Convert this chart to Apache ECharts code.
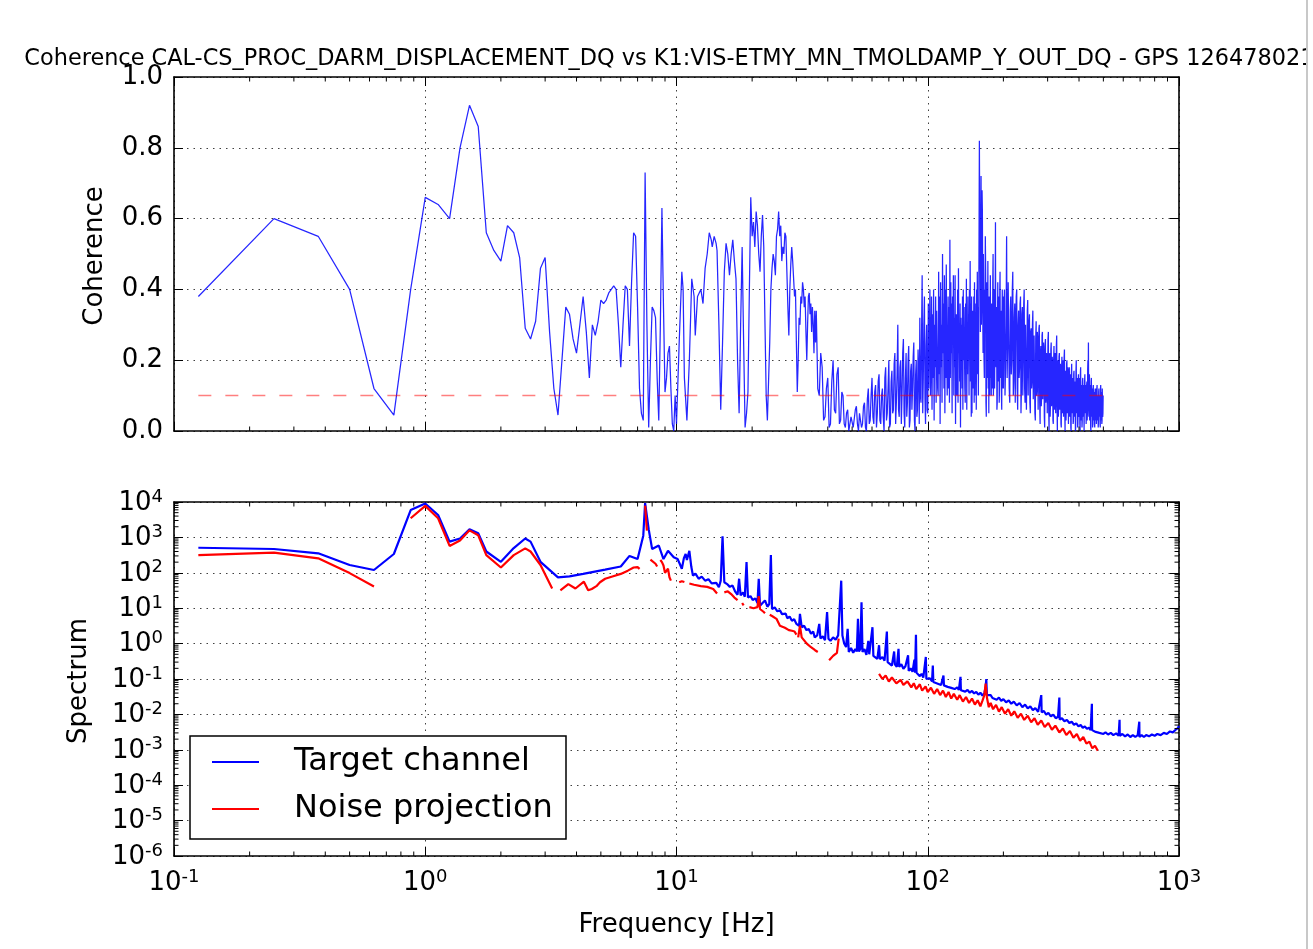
<!DOCTYPE html>
<html>
<head>
<meta charset="utf-8">
<script src="https://cdn.jsdelivr.net/npm/echarts@6/dist/echarts.min.js"></script>
<style>
  html, body { margin: 0; padding: 0; background: #fff; }
  #chart { width: 1313px; height: 949px; }
</style>
</head>
<body>
<div id="chart"></div>
<script>
// ---------- data ----------
const titleText = 'Coherence CAL-CS_PROC_DARM_DISPLACEMENT_DQ vs K1:VIS-ETMY_MN_TMOLDAMP_Y_OUT_DQ - GPS 1264780218';
const seriesNames = ['Target channel', 'Noise projection'];
const coherenceTickLabels = ['0.0', '0.2', '0.4', '0.6', '0.8', '1.0'];
const cohThreshold = 0.1;
const thresholdSpan = [0.125, 500];

// coherence on the 0.125 Hz bin grid, 0.125 ... 9.875 Hz
const binStep = 0.125;
const cohLow = [
  0.38, 0.60, 0.55, 0.40, 0.12, 0.045, 0.40, 0.66, 0.64, 0.60,
  0.80, 0.92, 0.86, 0.56, 0.51, 0.48, 0.58, 0.56, 0.49, 0.29,
  0.26, 0.31, 0.46, 0.49, 0.28, 0.12, 0.045,
  0.20, 0.35, 0.33, 0.26, 0.22, 0.30, 0.38, 0.28,
  0.15, 0.30, 0.27, 0.31, 0.37, 0.36, 0.37, 0.39,
  0.40, 0.41, 0.40, 0.30, 0.18, 0.30, 0.41, 0.40,
  0.24, 0.42, 0.56, 0.55, 0.35, 0.12, 0.05, 0.03,
  0.73, 0.30, 0.01, 0.20, 0.35, 0.34, 0.32, 0.15,
  0.03, 0.30, 0.63, 0.35, 0.11, 0.15, 0.22, 0.24,
  0.12, 0.02, 0.0, 0.10
];
// coherence 10 - 36 Hz, [frequency, coherence]
const cohMid = [
  [10.0,0.02],[10.25,0.25],[10.5,0.45],[10.625,0.40],[10.75,0.15],[11.0,0.03],[11.25,0.20],[11.5,0.43],[11.75,0.38],[11.875,0.27],
  [12.125,0.38],[12.5,0.40],[12.75,0.36],[13.0,0.46],[13.25,0.50],[13.5,0.56],[13.75,0.54],[13.875,0.52],[14.125,0.55],[14.375,0.53],
  [14.5,0.51],[14.75,0.30],[15.0,0.06],[15.25,0.25],[15.5,0.45],[15.75,0.53],[16.0,0.50],[16.25,0.44],[16.5,0.50],[16.75,0.54],
  [17.0,0.48],[17.25,0.43],[17.5,0.20],[17.75,0.05],[18.0,0.30],[18.25,0.52],[18.5,0.25],[18.75,0.01],[19.0,0.05],[19.25,0.11],
  [19.5,0.40],[19.75,0.66],[20.0,0.55],[20.25,0.59],[20.5,0.52],[20.75,0.62],[21.0,0.58],[21.25,0.50],[21.5,0.45],[21.75,0.55],
  [22.0,0.61],[22.25,0.52],[22.5,0.30],[22.75,0.10],[23.0,0.03],[23.25,0.03],[23.5,0.25],[23.75,0.40],[24.0,0.46],[24.25,0.50],
  [24.5,0.48],[24.75,0.44],[25.0,0.55],[25.25,0.57],[25.5,0.62],[25.75,0.55],[26.0,0.58],[26.25,0.48],[26.5,0.52],[26.75,0.50],
  [27.0,0.56],[27.25,0.55],[27.5,0.45],[27.75,0.35],[28.0,0.27],[28.25,0.40],[28.5,0.47],[28.75,0.52],[29.0,0.48],[29.25,0.43],
  [29.5,0.38],[29.75,0.40],[30.0,0.25],[30.25,0.11],[30.5,0.20],[30.75,0.32],[31.0,0.30],[31.25,0.38],[31.5,0.36],[31.75,0.42],
  [32.0,0.40],[32.25,0.35],[32.5,0.38],[32.75,0.28],[33.0,0.20],[33.25,0.30],[33.5,0.38],[33.75,0.39],[34.0,0.33],[34.25,0.36],
  [34.5,0.28],[34.75,0.35],[35.0,0.30],[35.25,0.22],[35.5,0.34],[35.75,0.25]
];
// coherence 36 - 99.5 Hz, 0.5 Hz spacing
const cohBandAStart = 36, cohBandAStep = 0.5;
const cohBandA = [
  0.34, 0.12, 0.10, 0.22, 0.18, 0.03, 0.04, 0.12, 0.15, 0.01,
  0.02, 0.14, 0.20, 0.06, 0.05, 0.16, 0.18, 0.02, 0.03, 0.11,
  0.10, 0.02, 0.01, 0.05, 0.06, 0.0, 0.0, 0.04, 0.04, 0.01,
  0.01, 0.06, 0.07, 0.02, 0.0, 0.05, 0.05, 0.01, 0.02, 0.07,
  0.08, 0.01, 0.0, 0.09, 0.12, 0.02, 0.03, 0.10, 0.15, 0.04,
  0.02, 0.11, 0.13, 0.01, 0.05, 0.14, 0.16, 0.03, 0.02, 0.10,
  0.12, 0.04, 0.0, 0.15, 0.18, 0.03, 0.05, 0.12, 0.20, 0.01,
  0.02, 0.14, 0.17, 0.05, 0.06, 0.19, 0.22, 0.02, 0.08, 0.16,
  0.30, 0.06, 0.04, 0.18, 0.20, 0.02, 0.10, 0.22, 0.26, 0.05,
  0.01, 0.15, 0.22, 0.04, 0.08, 0.20, 0.24, 0.01, 0.03, 0.17,
  0.19, 0.06, 0.12, 0.21, 0.25, 0.03, 0.0, 0.16, 0.20, 0.04,
  0.06, 0.23, 0.18, 0.02, 0.32, 0.10, 0.08, 0.28, 0.44, 0.05,
  0.15, 0.30, 0.38, 0.09, 0.02, 0.24, 0.30, 0.06
];
// coherence 100 - 199.5 Hz, 0.5 Hz spacing
const cohBandBStart = 100, cohBandBStep = 0.5;
const cohBandB = [
  0.05, 0.36, 0.12, 0.28, 0.40, 0.10, 0.20, 0.38, 0.06, 0.33, 0.15, 0.40, 0.03, 0.30, 0.18, 0.38, 0.08, 0.34, 0.22, 0.12,
  0.10, 0.45, 0.16, 0.38, 0.02, 0.42, 0.18, 0.30, 0.08, 0.50, 0.22, 0.36, 0.12, 0.44, 0.05, 0.40, 0.15, 0.47, 0.25, 0.10,
  0.20, 0.38, 0.12, 0.35, 0.08, 0.54, 0.15, 0.42, 0.22, 0.36, 0.05, 0.38, 0.25, 0.44, 0.10, 0.32, 0.18, 0.44, 0.02, 0.28,
  0.33, 0.10, 0.18, 0.40, 0.08, 0.46, 0.22, 0.30, 0.14, 0.36, 0.01, 0.32, 0.20, 0.30, 0.12, 0.38, 0.06, 0.40, 0.20, 0.35,
  0.35, 0.12, 0.08, 0.36, 0.18, 0.43, 0.06, 0.30, 0.16, 0.38, 0.24, 0.32, 0.10, 0.40, 0.20, 0.48, 0.14, 0.36, 0.04, 0.38,
  0.05, 0.30, 0.34, 0.12, 0.20, 0.38, 0.08, 0.42, 0.10, 0.32, 0.18, 0.36, 0.06, 0.40, 0.22, 0.45, 0.16, 0.35, 0.10, 0.30,
  0.55, 0.82, 0.62, 0.58, 0.28, 0.50, 0.72, 0.30, 0.40, 0.68, 0.62, 0.35, 0.22, 0.50, 0.50, 0.20, 0.15, 0.40, 0.30, 0.55,
  0.45, 0.08, 0.04, 0.40, 0.42, 0.15, 0.25, 0.48, 0.12, 0.38, 0.05, 0.36, 0.38, 0.10, 0.28, 0.44, 0.15, 0.30, 0.10, 0.36,
  0.36, 0.12, 0.20, 0.42, 0.50, 0.10, 0.15, 0.38, 0.40, 0.12, 0.26, 0.36, 0.59, 0.20, 0.18, 0.34, 0.35, 0.06, 0.08, 0.30,
  0.42, 0.14, 0.22, 0.36, 0.38, 0.08, 0.12, 0.40, 0.45, 0.15, 0.20, 0.34, 0.33, 0.10, 0.06, 0.32, 0.40, 0.12, 0.24, 0.38
];
// coherence 200 - 500 Hz, 1 Hz spacing
const cohBandCStart = 200, cohBandCStep = 1;
const cohBandC = [
  0.12, 0.35, 0.40, 0.10, 0.18, 0.30, 0.55, 0.15, 0.25, 0.42,
  0.42, 0.12, 0.08, 0.34, 0.38, 0.16, 0.20, 0.40, 0.45, 0.10,
  0.14, 0.32, 0.36, 0.08, 0.28, 0.38, 0.40, 0.12, 0.06, 0.30,
  0.34, 0.15, 0.18, 0.36, 0.38, 0.05, 0.12, 0.33, 0.35, 0.10,
  0.20, 0.36, 0.40, 0.12, 0.08, 0.30, 0.30, 0.06, 0.16, 0.34,
  0.37, 0.10, 0.22, 0.31, 0.33, 0.08, 0.05, 0.28, 0.29, 0.12,
  0.14, 0.30, 0.34, 0.09, 0.18, 0.27, 0.27, 0.05, 0.03, 0.26,
  0.31, 0.10, 0.12, 0.28, 0.26, 0.06, 0.17, 0.29, 0.30, 0.08,
  0.02, 0.22, 0.24, 0.07, 0.10, 0.27, 0.28, 0.09, 0.13, 0.25,
  0.22, 0.04, 0.01, 0.24, 0.26, 0.08, 0.10, 0.22, 0.20, 0.05,
  0.15, 0.26, 0.28, 0.06, 0.0, 0.20, 0.22, 0.04, 0.08, 0.23,
  0.25, 0.07, 0.12, 0.21, 0.19, 0.03, 0.02, 0.20, 0.24, 0.06,
  0.09, 0.22, 0.18, 0.05, 0.13, 0.24, 0.27, 0.07, 0.0, 0.18,
  0.20, 0.04, 0.07, 0.21, 0.22, 0.06, 0.11, 0.19, 0.17, 0.02,
  0.01, 0.18, 0.21, 0.05, 0.08, 0.20, 0.19, 0.04, 0.12, 0.21,
  0.23, 0.06, 0.0, 0.17, 0.16, 0.03, 0.06, 0.19, 0.20, 0.05,
  0.10, 0.18, 0.15, 0.02, 0.02, 0.17, 0.18, 0.04, 0.07, 0.16,
  0.15, 0.01, 0.0, 0.16, 0.19, 0.05, 0.09, 0.15, 0.14, 0.02,
  0.03, 0.16, 0.17, 0.04, 0.06, 0.14, 0.12, 0.0, 0.01, 0.17,
  0.20, 0.05, 0.08, 0.15, 0.13, 0.01, 0.02, 0.14, 0.16, 0.04,
  0.05, 0.15, 0.14, 0.02, 0.0, 0.16, 0.18, 0.03, 0.07, 0.13,
  0.12, 0.01, 0.03, 0.14, 0.15, 0.04, 0.06, 0.13, 0.11, 0.0,
  0.0, 0.14, 0.16, 0.05, 0.08, 0.12, 0.13, 0.02, 0.02, 0.13,
  0.14, 0.03, 0.05, 0.17, 0.20, 0.12, 0.25, 0.06, 0.04, 0.14,
  0.16, 0.03, 0.07, 0.13, 0.12, 0.01, 0.0, 0.14, 0.15, 0.04,
  0.06, 0.12, 0.11, 0.01, 0.02, 0.12, 0.13, 0.03, 0.05, 0.11,
  0.10, 0.02, 0.01, 0.11, 0.12, 0.03, 0.04, 0.12, 0.11, 0.02,
  0.02, 0.12, 0.13, 0.03, 0.05, 0.10, 0.10, 0.01, 0.03, 0.11,
  0.12, 0.04, 0.06, 0.10, 0.09, 0.02, 0.01, 0.12, 0.13, 0.03,
  0.04, 0.11, 0.11, 0.02, 0.03, 0.12, 0.12, 0.04, 0.05, 0.10,
  0.10
];

// target channel spectrum, [frequency, amplitude]
const targetLow = [
  [0.125,510],[0.25,470],[0.375,355],[0.5,166],[0.625,120],[0.75,340],[0.875,5900],[1.0,9100],[1.125,4300],[1.25,760],
  [1.375,930],[1.5,1700],[1.625,1320],[1.75,400],[2.0,204],[2.25,500],[2.5,930],[2.625,760],[2.875,204],[3.375,74],
  [3.75,79],[4.25,93],[5.2,123],[6.0,151],[6.5,300],[7.0,245],[7.375,1120],[7.5,9300],[7.75,1700],[8.0,468],
  [8.5,590],[8.875,245],[9.25,417],[9.75,275]
];
const targetMid = [
  [10.1,245],[10.3,180],[10.5,129],[10.7,260],[10.875,340],[11.0,230],[11.25,417],[11.45,150],[11.625,83],[11.9,95],
  [12.25,68],[12.6,78],[13.0,60],[13.4,66],[13.8,50],[14.0,46],[14.4,52],[14.75,39],[15.0,60],[15.25,1070],
  [15.5,54],[15.9,48],[16.3,40],[16.7,44],[17.1,30],[17.5,24],[17.75,68],[18.0,23],[18.4,28],[18.7,21],
  [19.0,200],[19.25,20],[19.7,22],[20.1,17],[20.6,19],[21.0,14],[21.25,68],[21.5,11.7],[22.0,14],[22.5,16.6],
  [23.0,11],[23.4,13],[23.75,316],[24.0,9.5],[24.6,10.5],[25.2,8.2],[25.8,8.8],[26.3,6.8],[26.75,6.2],[27.2,7.0],
  [27.6,5.2],[28.2,5.8],[28.8,4.4],[29.4,4.9],[30.0,3.6],[30.5,3.9],[30.75,3.2],[31.0,6.9],[31.5,2.9],[32.2,3.2],
  [32.9,2.4],[33.6,2.6],[34.3,1.9],[35.0,2.2],[35.5,1.5],[36.3,1.7],[37.0,3.6],[37.4,1.4],[38.2,1.6],[39.0,1.25],
  [39.75,7.8],[40.25,1.38],[41.0,1.2],[42.0,1.5],[43.0,1.3],[44.0,1.7],[44.6,1.9],[45.25,60],[45.75,1.7],[46.5,1.0],
  [47.3,0.8],[48.0,2.6],[48.5,0.58],[49.5,0.75],[50.5,0.55],[51.5,0.7],[52.2,0.6],[52.75,5.0],[53.25,0.6],[53.9,0.7],
  [54.5,14.8],[55.0,0.58],[56.0,0.7],[57.0,0.48],[58.0,1.2],[58.5,0.5],[59.5,0.45],[60.25,2.9],[60.75,0.45],[61.8,0.5],
  [63,0.37],[64.0,0.9],[64.5,0.36],[66.0,0.42],[67.3,0.33],[68.75,2.2],[69.25,0.3],[70.5,0.34],[72,0.24],[73.5,0.6],
  [74.0,0.26],[75.3,0.22],[76.5,0.71],[77,0.22],[78.5,0.26],[80,0.195],[81.5,0.23],[83.5,0.47],[84,0.17],[85.5,0.2],
  [87.0,0.16],[88.5,0.35],[89.0,0.15],[89.75,1.78],[90.25,0.15],[91.5,0.17],[93,0.12],[94.5,0.14],[96.0,0.11],[98.25,0.42],
  [98.75,0.1]
];
const targetHigh = [
  [100,0.095],[102,0.105],[104,0.085],[104.75,0.24],[105.25,0.082],[107,0.09],[109,0.075],[111,0.083],[113,0.068],[115.5,0.126],
  [116,0.066],[118,0.072],[120,0.06],[122,0.068],[124,0.056],[126,0.062],[128,0.052],[131,0.058],[133,0.049],[135,0.115],
  [135.5,0.048],[138,0.052],[141,0.044],[144,0.049],[147,0.041],[150,0.046],[153,0.039],[156,0.043],[159,0.036],[162,0.041],
  [165,0.034],[168,0.04],[170,0.06],[171,0.10],[172,0.035],[175,0.031],[178,0.035],[181,0.029],[184,0.032],[188,0.026],
  [192,0.03],[196,0.024],[200,0.027],[205,0.022],[210,0.025],[215,0.02],[220,0.023],[226,0.018],[232,0.021],[238,0.016],
  [244,0.019],[250,0.0148],[256,0.0168],[262,0.0132],[268,0.015],[275,0.0118],[283,0.035],[284,0.0115],[290,0.0125],[296,0.0098],
  [302,0.011],[309,0.0088],[316,0.0098],[323,0.0078],[330,0.0086],[334,0.03],[335,0.0072],[342,0.0078],[350,0.0064],[358,0.007],
  [366,0.0057],[374,0.0062],[382,0.0051],[390,0.0056],[398,0.0046],[406,0.005],[414,0.0042],[422,0.0046],[430,0.0039],[438,0.0042],
  [445,0.0036],[450,0.02],[451,0.0036],[458,0.0038],[466,0.0032],[474,0.0035],[482,0.003],[490,0.0033],[500,0.0028],[510,0.0031],
  [522,0.0027],[535,0.003],[548,0.0026],[562,0.0029],[575,0.0025],[580,0.007],[581,0.0025],[595,0.0028],[610,0.0024],[625,0.0027],
  [640,0.0023],[655,0.0026],[670,0.0023],[685,0.0026],[695,0.0062],[696,0.0023],[710,0.0026],[725,0.0023],[740,0.0026],[760,0.0024],
  [780,0.0027],[800,0.0025],[820,0.0028],[845,0.0026],[870,0.003],[895,0.0028],[920,0.0033],[945,0.0031],[970,0.0037],[990,0.0041],
  [1000,0.0048]
];

// noise projection, [frequency, amplitude]; null where coherence is under threshold
const noiseLow = [
  [0.125,316],[0.25,372],[0.375,257],[0.5,98],[0.625,41],[0.75,null],
  [0.875,3470],[1.0,7760],[1.125,3470],[1.25,575],[1.375,813],[1.5,1580],[1.625,1150],[1.75,316],[2.0,141],[2.25,316],
  [2.5,490],[2.625,400],[2.875,166],[3.2,36],[3.3,null],
  [3.45,32],[3.71,48],[3.96,36],[4.28,56],[4.45,32],[4.6,35],[4.8,42],[4.96,54],[5.2,68],[5.6,80],
  [6.0,93],[6.4,115],[6.75,141],[7.0,145],[7.13,129],[7.25,null],
  [7.5,7900],[7.625,1550],[7.7,null],
  [7.875,235],[8.0,230],[8.25,180],[8.375,150],[8.45,null],
  [8.625,230],[8.75,200],[8.875,160],[9.0,100],[9.25,130],[9.375,75],[9.5,60],[9.6,null]
];
const noiseMid = [
  [10.25,54],[10.5,58],[10.75,55],[10.9,null],
  [11.25,50],[11.75,46],[12.5,42],[13.25,40],[14.0,35],[14.5,26],[14.8,null],
  [15.5,28],[16.0,30],[16.5,25],[17.0,20],[17.5,17],[17.6,null],
  [18.25,14],[18.5,12],[18.6,null],
  [19.5,10.7],[20.25,10],[21.0,10.7],[21.25,22],[21.5,9.5],[22.25,7.8],[22.5,7.2],[22.7,null],
  [23.5,6.5],[24.0,6.0],[25.0,5.0],[25.8,3.2],[27.0,2.8],[28.0,2.4],[28.8,2.3],[29.5,2.2],[30.0,1.8],[30.2,null],
  [30.5,1.5],[31.0,3.2],[31.5,1.5],[32.0,1.38],[33.0,1.0],[34.3,0.79],[35.6,0.65],[36.5,0.58],[37,null],
  [40.5,0.34],[42.0,0.45],[43.5,0.55],[44.2,1.38],[44.5,null]
];
const noiseHigh = [
  [64,0.14],[66,0.1],[68,0.125],[70,0.085],[72,0.11],[75,0.075],[78,0.095],[80,0.068],[83,0.086],[86,0.058],
  [88,0.076],[90,0.052],[93,0.071],[95,0.047],[98,0.062],[100,0.043],[103,0.057],[106,0.038],[109,0.052],[112,0.035],
  [115,0.047],[118,0.031],[121,0.043],[124,0.028],[127,0.038],[131,0.026],[134,0.035],[138,0.023],[142,0.031],[146,0.021],
  [150,0.028],[154,0.019],[158,0.025],[162,0.017],[165,0.024],[168,0.035],[170,0.074],[172,0.03],[175,0.016],[178,0.021],
  [182,0.014],[187,0.0185],[192,0.012],[197,0.016],[203,0.0105],[209,0.014],[215,0.0092],[221,0.0122],[228,0.008],[235,0.0105],
  [242,0.007],[250,0.0092],[258,0.006],[266,0.0078],[274,0.0051],[283,0.0067],[292,0.0044],[302,0.0057],[312,0.0037],[322,0.0048],
  [334,0.0031],[345,0.004],[356,0.0026],[368,0.0034],[380,0.0022],[392,0.0028],[404,0.0018],[416,0.0023],[428,0.0015],[440,0.0017],
  [452,0.0011],[463,0.0013],[475,0.00095]
];

// ---------- assemble series data ----------
const coherence = [];
cohLow.forEach((v, i) => coherence.push([binStep * (i + 1), v]));
cohMid.forEach(p => coherence.push(p));
cohBandA.forEach((v, i) => coherence.push([cohBandAStart + i * cohBandAStep, v]));
cohBandB.forEach((v, i) => coherence.push([cohBandBStart + i * cohBandBStep, v]));
cohBandC.forEach((v, i) => coherence.push([cohBandCStart + i * cohBandCStep, v]));
const thresholdLine = thresholdSpan.map(f => [f, cohThreshold]);
const target = targetLow.concat(targetMid, targetHigh);
const noise = noiseLow.concat(noiseMid, noiseHigh);

// ---------- styling helpers ----------
const FONT = 'DejaVu Sans';
const BLACK = '#000';

function decadeMinors(eFrom, eTo) {
  const out = [];
  for (let e = eFrom; e < eTo; e++) for (let m = 2; m <= 9; m++) out.push(m * Math.pow(10, e));
  return out;
}
const freqMinors = decadeMinors(-1, 3);
const specMinors = decadeMinors(-6, 4);

const frameLine = { show: true, onZero: false, lineStyle: { color: BLACK, width: 1.6 } };
const majorTick = { show: true, inside: true, length: 9, lineStyle: { color: BLACK, width: 1 } };
const dotted = { show: true, lineStyle: { color: BLACK, width: 1, type: [1.5, 5], opacity: 0.75 } };

const powLabel = {
  show: true,
  color: BLACK,
  formatter: v => '{b|10}{s|' + Math.round(Math.log10(v)) + '}',
  rich: {
    b: { fontFamily: FONT, fontSize: 26, color: BLACK, verticalAlign: 'bottom', padding: [2, 0, 0, 0] },
    s: { fontFamily: FONT, fontSize: 18, color: BLACK, verticalAlign: 'top' }
  }
};

function freqAxis(gridIndex, position, extra) {
  return Object.assign({
    type: 'log', logBase: 10, gridIndex, position, min: 0.1, max: 1000, interval: 1,
    axisLine: frameLine, axisTick: majorTick, axisLabel: { show: false },
    splitLine: { show: false }, minorTick: { show: false }
  }, extra || {});
}
function specAxis(position, extra) {
  return Object.assign({
    type: 'log', logBase: 10, gridIndex: 1, position, min: 1e-6, max: 1e4, interval: 1,
    axisLine: frameLine, axisTick: majorTick, axisLabel: { show: false },
    splitLine: { show: false }, minorTick: { show: false }
  }, extra || {});
}

// short inward tick marks at the 2..9 sub-decade positions, placed through the axis scale
function minorTicks(xIdx, yIdx, values, along, refX, refY) {
  return {
    type: 'custom', xAxisIndex: xIdx, yAxisIndex: yIdx, silent: true, clip: false, z: 6,
    animation: false,
    data: values.map(v => along === 'x' ? [v, refY] : [refX, v]),
    renderItem(params, api) {
      const cs = params.coordSys;
      const L = 4.5;
      const st = { stroke: BLACK, lineWidth: 1 };
      if (along === 'x') {
        const px = api.coord([api.value(0), refY])[0];
        const b = cs.y + cs.height, t = cs.y;
        return { type: 'group', children: [
          { type: 'line', shape: { x1: px, y1: b, x2: px, y2: b - L }, style: st },
          { type: 'line', shape: { x1: px, y1: t, x2: px, y2: t + L }, style: st }
        ] };
      }
      const py = api.coord([refX, api.value(1)])[1];
      const l = cs.x, r = cs.x + cs.width;
      return { type: 'group', children: [
        { type: 'line', shape: { x1: l, y1: py, x2: l + L, y2: py }, style: st },
        { type: 'line', shape: { x1: r, y1: py, x2: r - L, y2: py }, style: st }
      ] };
    }
  };
}

const textStyle = (size) => ({ font: size + 'px "' + FONT + '"', fill: BLACK });

const chart = echarts.init(document.getElementById('chart'), null, { renderer: 'canvas' });
chart.setOption({
  animation: false,
  backgroundColor: '#fff',
  grid: [
    { left: 174, top: 77, width: 1005, height: 354 },
    { left: 174, top: 502, width: 1005, height: 354 }
  ],
  xAxis: [
    freqAxis(0, 'bottom', { splitLine: dotted }),
    freqAxis(1, 'bottom', { splitLine: dotted, axisLabel: Object.assign({ margin: 12 }, powLabel) }),
    freqAxis(0, 'top'),
    freqAxis(1, 'top')
  ],
  yAxis: [
    {
      type: 'value', gridIndex: 0, position: 'left', min: 0, max: 1, interval: 0.2,
      axisLine: frameLine, axisTick: majorTick, splitLine: dotted,
      axisLabel: {
        show: true, margin: 11, color: BLACK, fontFamily: FONT, fontSize: 26,
        formatter: v => coherenceTickLabels[Math.round(v * 5)]
      }
    },
    specAxis('left', { splitLine: dotted, axisLabel: Object.assign({ margin: 11 }, powLabel) }),
    {
      type: 'value', gridIndex: 0, position: 'right', min: 0, max: 1, interval: 0.2,
      axisLine: frameLine, axisTick: majorTick, splitLine: { show: false }, axisLabel: { show: false }
    },
    specAxis('right')
  ],
  series: [
    {
      name: 'Coherence', type: 'line', xAxisIndex: 0, yAxisIndex: 0, data: coherence,
      symbol: 'none', showSymbol: false, z: 3,
      lineStyle: { color: '#0000ff', width: 1.25, opacity: 0.85 }
    },
    {
      name: 'Threshold', type: 'line', xAxisIndex: 0, yAxisIndex: 0, data: thresholdLine,
      symbol: 'none', showSymbol: false, z: 4,
      lineStyle: { color: '#ff0000', width: 1.5, opacity: 0.5, type: [13, 14] }
    },
    {
      name: seriesNames[0], type: 'line', xAxisIndex: 1, yAxisIndex: 1, data: target,
      symbol: 'none', showSymbol: false, z: 3,
      lineStyle: { color: '#0000ff', width: 2.2 }
    },
    {
      name: seriesNames[1], type: 'line', xAxisIndex: 1, yAxisIndex: 1, data: noise,
      symbol: 'none', showSymbol: false, connectNulls: false, z: 4,
      lineStyle: { color: '#ff0000', width: 2.2 }
    },
    minorTicks(0, 0, freqMinors, 'x', null, 0.5),
    minorTicks(1, 1, freqMinors, 'x', null, 1),
    minorTicks(1, 1, specMinors, 'y', 1, null)
  ],
  graphic: [
    { type: 'text', x: 676.5, y: 59, z: 50,
      style: Object.assign({ text: titleText, align: 'center', verticalAlign: 'middle' }, textStyle(22.4)) },
    { type: 'text', x: 95, y: 256, rotation: Math.PI / 2, z: 50,
      style: Object.assign({ text: 'Coherence', align: 'center', verticalAlign: 'middle' }, textStyle(26)) },
    { type: 'text', x: 79, y: 681, rotation: Math.PI / 2, z: 50,
      style: Object.assign({ text: 'Spectrum', align: 'center', verticalAlign: 'middle' }, textStyle(26)) },
    { type: 'text', x: 676.5, y: 925, z: 50,
      style: Object.assign({ text: 'Frequency [Hz]', align: 'center', verticalAlign: 'middle' }, textStyle(26)) },
    // legend box
    { type: 'rect', z: 100, shape: { x: 190, y: 736, width: 376, height: 103 },
      style: { fill: '#fff', stroke: BLACK, lineWidth: 1.5 } },
    { type: 'line', z: 101, shape: { x1: 212, y1: 762, x2: 259, y2: 762 },
      style: { stroke: '#0000ff', lineWidth: 2 } },
    { type: 'line', z: 101, shape: { x1: 212, y1: 809, x2: 259, y2: 809 },
      style: { stroke: '#ff0000', lineWidth: 2 } },
    { type: 'text', z: 101, x: 294, y: 762,
      style: Object.assign({ text: seriesNames[0], align: 'left', verticalAlign: 'middle' }, textStyle(32)) },
    { type: 'text', z: 101, x: 294, y: 809,
      style: Object.assign({ text: seriesNames[1], align: 'left', verticalAlign: 'middle' }, textStyle(32)) },
    // window edge
    { type: 'rect', z: 200, shape: { x: 1306, y: 0, width: 7, height: 949 }, style: { fill: '#fff' } },
    { type: 'line', z: 201, shape: { x1: 1307, y1: 0, x2: 1307, y2: 949 },
      style: { stroke: '#c8c8c8', lineWidth: 2 } }
  ]
});
</script>
</body>
</html>
